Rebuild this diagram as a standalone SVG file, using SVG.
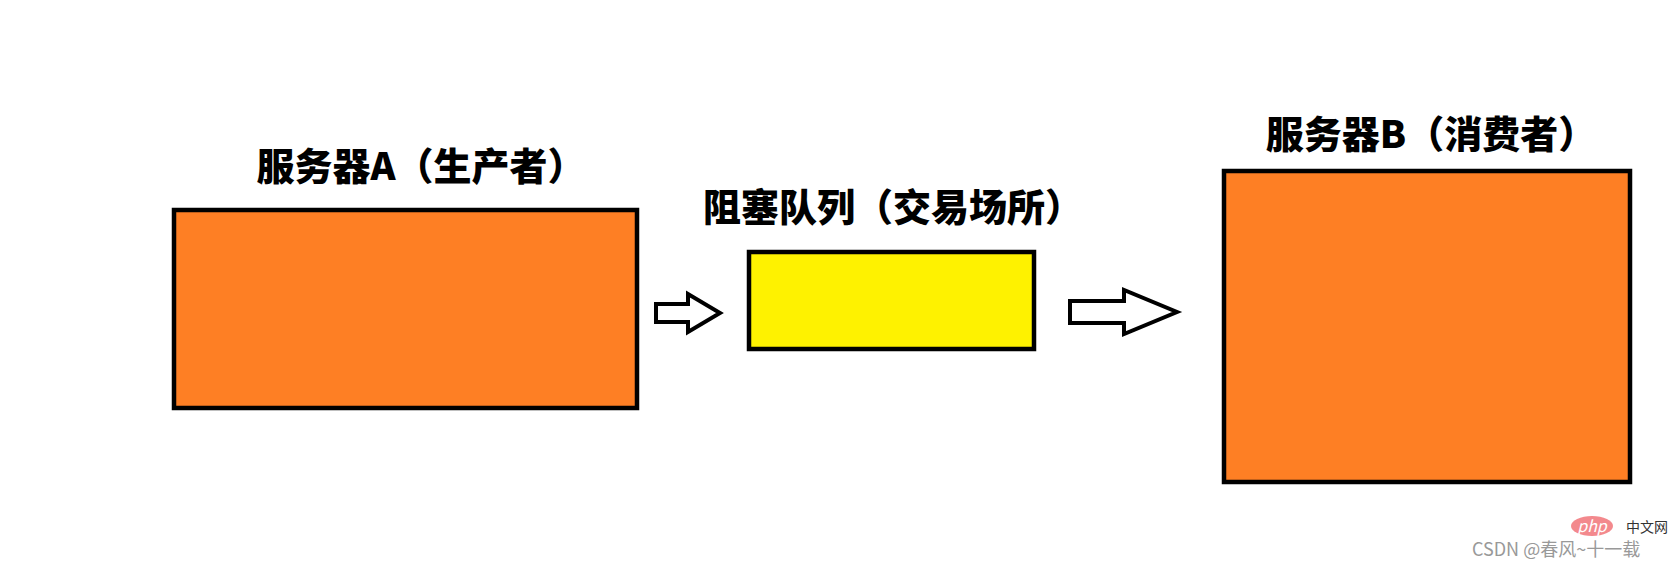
<svg xmlns="http://www.w3.org/2000/svg" width="1679" height="562" viewBox="0 0 1679 562">
<style>
.box{stroke:#000;stroke-width:4.5}
.lbl{font-family:"Noto Sans CJK SC","Liberation Sans",sans-serif;font-weight:900;font-size:38px;fill:#000}
.arr{fill:#fff;stroke:#000;stroke-width:4;stroke-linejoin:miter}
</style>
<rect width="1679" height="562" fill="#fff"/>
<g id="serverA">
<rect class="box" x="174" y="210" width="463" height="198" fill="#fe7f24"/>
<text class="lbl" x="421" y="180" text-anchor="middle">服务器A（生产者）</text>
</g>
<g id="queue">
<rect class="box" x="749" y="252" width="285" height="97" fill="#fef200"/>
<text class="lbl" x="893" y="221" text-anchor="middle">阻塞队列（交易场所）</text>
</g>
<g id="serverB">
<rect class="box" x="1224" y="171" width="406" height="311" fill="#fe7f24"/>
<text class="lbl" x="1431" y="148" text-anchor="middle">服务器B（消费者）</text>
</g>
<g id="connectors">
<path class="arr" d="M656,304 H688 V294 L720,313 L688,332 V322 H656 Z"/>
<path class="arr" d="M1070,301 H1124 V290 L1177,312 L1124,334 V323 H1070 Z"/>
</g>
<g id="watermark" font-family="Noto Sans CJK SC,sans-serif">
<ellipse cx="1592" cy="526" rx="21" ry="10" fill="#f06b70" opacity="0.8"/>
<text x="1592" y="532" font-size="16" font-style="italic" fill="#fff" text-anchor="middle">php</text>
<text x="1626" y="532" font-size="14" fill="#333">中文网</text>
<text x="1472" y="556" font-size="18" fill="#999">CSDN @春风~十一载</text>
</g>
</svg>
